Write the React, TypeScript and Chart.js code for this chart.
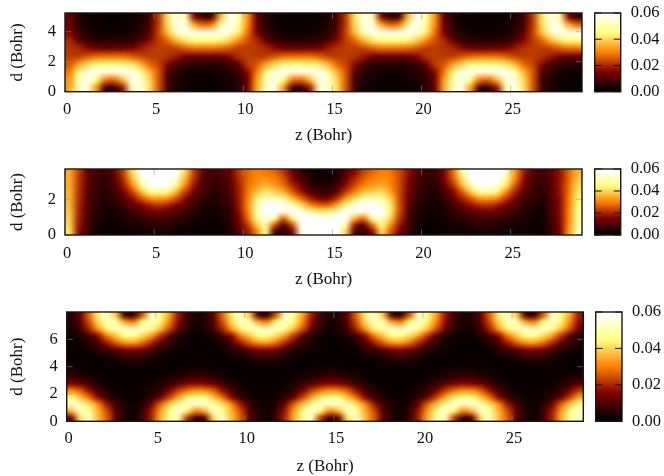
import { useEffect, useRef } from "react";
import { Chart, LinearScale, PointElement, ScatterController, type ChartConfiguration } from "chart.js";

Chart.register(LinearScale, PointElement, ScatterController);

const FONT = "'Liberation Serif', serif";

const zTicks = [0, 5, 10, 15, 20, 25];
const zCenters = [
  0.25, 0.75, 1.25, 1.75, 2.25, 2.75, 3.25, 3.75, 4.25, 4.75, 5.25, 5.75, 6.25, 6.75, 7.25, 7.75, 8.25, 8.75, 9.25, 9.75,
  10.25, 10.75, 11.25, 11.75, 12.25, 12.75, 13.25, 13.75, 14.25, 14.75, 15.25, 15.75, 16.25, 16.75, 17.25, 17.75, 18.25, 18.75, 19.25, 19.75,
  20.25, 20.75, 21.25, 21.75, 22.25, 22.75, 23.25, 23.75, 24.25, 24.75, 25.25, 25.75, 26.25, 26.75, 27.25, 27.75, 28.25, 28.75
];
const colorbarTicks = [0, 0.02, 0.04, 0.06];
// density in units of 0.001, bottom row first
const colorbarLevels = [
  0, 2, 4, 6, 8, 10, 12, 14, 16, 18, 20, 22, 24, 26, 28, 30, 32, 34, 36, 38, 40, 42, 44, 46, 48, 50, 52, 54, 56, 58, 60
];

const topD = [0.26, 0.79, 1.31, 1.84, 2.36, 2.89, 3.41, 3.94, 4.46, 4.99];
const topRows = [
  [34,51,57,33,8,6,18,52,56,41,25,8,3,2,1,1,1,2,2,5,13,34,51,57,33,8,6,18,52,56,41,25,8,3,2,1,1,1,2,2,5,13,34,51,57,33,8,6,18,52,56,41,25,8,3,2,1,1],
  [33,49,58,46,29,27,37,56,55,40,25,8,4,2,2,1,1,2,3,5,14,33,49,58,46,29,27,37,56,55,40,25,8,4,2,2,1,1,2,3,5,14,33,49,58,46,29,27,37,56,55,40,25,8,4,2,2,1],
  [29,44,55,58,57,57,58,57,49,36,25,10,5,3,2,2,2,3,4,7,16,29,44,55,58,57,57,58,57,49,36,25,10,5,3,2,2,2,3,4,7,16,29,44,55,58,57,57,58,57,49,36,25,10,5,3,2,2],
  [25,33,40,44,45,45,44,42,36,27,23,16,9,6,5,5,5,5,7,12,22,25,33,40,44,45,45,44,42,36,27,23,16,9,6,5,5,5,5,7,12,22,25,33,40,44,45,45,44,42,36,27,23,16,9,6,5,5],
  [22,22,25,27,28,28,28,26,23,22,22,21,18,14,12,12,12,13,16,21,22,22,22,25,27,28,28,28,26,23,22,22,21,18,14,12,12,12,13,16,21,22,22,22,25,27,28,28,28,26,23,22,22,21,18,14,12,12],
  [21,20,16,13,12,12,13,14,18,21,22,22,23,26,28,28,28,27,25,22,22,21,20,16,13,12,12,13,14,18,21,22,22,23,26,28,28,28,27,25,22,22,21,20,16,13,12,12,13,14,18,21,22,22,23,26,28,28],
  [20,11,7,5,5,5,5,6,9,16,22,27,36,42,45,45,45,44,39,31,24,20,11,7,5,5,5,5,6,9,16,22,27,36,42,45,45,45,44,39,31,24,20,11,7,5,5,5,5,6,9,16,22,27,36,42,45,45],
  [15,7,4,2,2,2,2,3,5,11,23,37,51,58,57,57,57,58,55,43,28,15,7,4,2,2,2,2,3,5,11,23,37,51,58,57,57,57,58,55,43,28,15,7,4,2,2,2,2,3,5,11,23,37,51,58,57,57],
  [13,5,2,2,1,1,2,2,4,9,22,41,56,55,35,27,30,48,58,48,31,13,5,2,2,1,1,2,2,4,9,22,41,56,55,35,27,30,48,58,48,31,13,5,2,2,1,1,2,2,4,9,22,41,56,55,35,27],
  [12,5,2,2,1,1,1,2,3,8,22,42,57,49,16,6,9,37,58,49,32,12,5,2,2,1,1,1,2,3,8,22,42,57,49,16,6,9,37,58,49,32,12,5,2,2,1,1,1,2,3,8,22,42,57,49,16,6]
];

const midD = [0.19, 0.56, 0.93, 1.3, 1.67, 2.04, 2.41, 2.78, 3.15, 3.52];
// this panel has no repeat in z, so it was read column by column (z = 0.25, 0.75, ...)
const midColumns = [
  [42,40,39,38,37,36,36,35,35,35],
  [17,18,19,20,20,21,21,22,22,23],
  [7,8,9,9,10,10,11,11,12,12],
  [3,3,4,5,5,6,7,7,7,8],
  [1,1,2,2,3,4,4,5,6,7],
  [2,2,2,3,4,6,8,9,10,11],
  [1,2,3,4,7,9,13,17,20,22],
  [2,3,5,7,11,16,22,30,36,40],
  [2,3,6,9,15,24,35,46,55,60],
  [3,5,8,12,19,31,45,58,64,66],
  [3,5,8,13,21,33,48,62,65,68],
  [3,5,8,12,19,31,45,58,64,66],
  [2,3,6,9,15,24,35,46,55,60],
  [2,3,5,7,11,16,22,30,36,40],
  [1,2,3,4,7,9,13,17,20,22],
  [1,2,2,3,4,6,8,9,10,11],
  [1,1,2,2,3,4,5,6,7,7],
  [1,2,2,3,4,5,6,7,8,9],
  [4,4,5,6,7,8,9,10,11,12],
  [10,12,14,16,17,18,18,19,20,21],
  [18,22,27,30,31,30,29,28,27,27],
  [30,38,46,50,48,44,37,33,31,30],
  [46,50,56,62,60,52,43,36,32,29],
  [10,25,50,62,64,52,40,33,30,27],
  [5,10,26,55,60,48,36,28,25,22],
  [14,24,44,60,52,38,26,20,16,13],
  [55,60,66,58,42,28,18,13,9,7],
  [64,66,64,50,32,19,10,6,4,3],
  [66,66,60,44,27,14,7,4,2,2],
  [66,66,60,44,27,14,7,4,2,2],
  [62,64,62,52,35,21,12,7,4,3],
  [40,50,58,60,46,33,22,16,12,9],
  [10,18,36,58,56,42,30,24,20,16],
  [5,10,28,56,60,50,38,30,26,23],
  [16,28,50,62,63,52,40,33,30,27],
  [40,46,54,60,56,50,41,35,32,30],
  [26,32,40,44,43,40,34,31,30,29],
  [15,18,22,24,25,24,24,24,24,24],
  [7,8,9,10,12,13,14,15,16,17],
  [2,3,3,4,5,6,7,8,9,10],
  [1,1,2,2,3,4,5,5,6,7],
  [1,1,2,2,3,3,4,5,6,7],
  [2,2,2,3,4,6,8,11,13,14],
  [2,2,4,5,8,11,15,20,25,27],
  [2,3,5,8,12,18,25,35,41,46],
  [2,4,7,10,17,25,38,50,60,62],
  [3,5,8,12,20,32,47,60,65,67],
  [3,5,8,13,21,33,48,62,65,68],
  [3,4,7,11,18,30,44,55,63,65],
  [2,4,6,9,14,21,31,42,50,55],
  [2,3,4,7,10,14,19,25,31,33],
  [2,2,3,4,6,8,11,14,16,18],
  [2,2,2,3,4,6,7,8,9,10],
  [1,2,2,2,3,4,5,6,7,7],
  [6,6,7,8,8,9,9,10,10,11],
  [14,15,15,16,16,16,17,17,17,17],
  [32,31,30,30,29,29,28,28,27,27],
  [52,50,48,47,45,44,42,40,38,36]
];

const lowD = [0.25, 0.75, 1.25, 1.75, 2.25, 2.75, 3.25, 3.75, 4.25, 4.75, 5.25, 5.75, 6.25, 6.75, 7.25, 7.75];
const lowRows = [
  [12,41,53,37,26,11,4,2,7,19,35,48,51,22,6,12,41,53,37,26,11,4,2,7,19,35,48,51,22,6,12,41,53,37,26,11,4,2,7,19,35,48,51,22,6,12,41,53,37,26,11,4,2,7,19,35,48,51],
  [36,53,48,36,24,10,4,2,6,18,33,45,54,44,30,36,53,48,36,24,10,4,2,6,18,33,45,54,44,30,36,53,48,36,24,10,4,2,6,18,33,45,54,44,30,36,53,48,36,24,10,4,2,6,18,33,45,54],
  [54,50,42,31,18,8,3,2,4,13,26,38,48,53,54,54,50,42,31,18,8,3,2,4,13,26,38,48,53,54,54,50,42,31,18,8,3,2,4,13,26,38,48,53,54,54,50,42,31,18,8,3,2,4,13,26,38,48],
  [45,38,28,16,7,3,2,1,2,5,12,23,34,43,47,45,38,28,16,7,3,2,1,2,5,12,23,34,43,47,45,38,28,16,7,3,2,1,2,5,12,23,34,43,47,45,38,28,16,7,3,2,1,2,5,12,23,34],
  [31,26,17,9,4,2,1,1,2,3,6,14,22,28,32,31,26,17,9,4,2,1,1,2,3,6,14,22,28,32,31,26,17,9,4,2,1,1,2,3,6,14,22,28,32,31,26,17,9,4,2,1,1,2,3,6,14,22],
  [15,12,7,4,2,1,1,1,1,2,4,6,10,14,16,15,12,7,4,2,1,1,1,1,2,4,6,10,14,16,15,12,7,4,2,1,1,1,1,2,4,6,10,14,16,15,12,7,4,2,1,1,1,1,2,4,6,10],
  [7,5,3,2,1,1,1,1,1,1,2,3,4,6,7,7,5,3,2,1,1,1,1,1,1,2,3,4,6,7,7,5,3,2,1,1,1,1,1,1,2,3,4,6,7,7,5,3,2,1,1,1,1,1,1,2,3,4],
  [3,2,2,1,1,1,1,1,1,1,1,1,2,3,3,3,2,2,1,1,1,1,1,1,1,1,1,2,3,3,3,2,2,1,1,1,1,1,1,1,1,1,2,3,3,3,2,2,1,1,1,1,1,1,1,1,1,2],
  [1,1,1,1,1,2,3,3,3,2,1,1,1,1,1,1,1,1,1,1,2,3,3,3,2,1,1,1,1,1,1,1,1,1,1,2,3,3,3,2,1,1,1,1,1,1,1,1,1,1,2,3,3,3,2,1,1,1],
  [1,1,1,2,3,4,6,7,6,4,2,1,1,1,1,1,1,1,2,3,4,6,7,6,4,2,1,1,1,1,1,1,1,2,3,4,6,7,6,4,2,1,1,1,1,1,1,1,2,3,4,6,7,6,4,2,1,1],
  [1,1,2,5,7,11,15,16,13,9,5,3,2,1,1,1,1,2,5,7,11,15,16,13,9,5,3,2,1,1,1,1,2,5,7,11,15,16,13,9,5,3,2,1,1,1,1,2,5,7,11,15,16,13,9,5,3,2],
  [1,2,4,9,18,26,32,33,28,20,12,6,3,2,1,1,2,4,9,18,26,32,33,28,20,12,6,3,2,1,1,2,4,9,18,26,32,33,28,20,12,6,3,2,1,1,2,4,9,18,26,32,33,28,20,12,6,3],
  [2,3,8,16,29,38,45,46,41,33,21,10,4,2,1,2,3,8,16,29,38,45,46,41,33,21,10,4,2,1,2,3,8,16,29,38,45,46,41,33,21,10,4,2,1,2,3,8,16,29,38,45,46,41,33,21,10,4],
  [3,8,19,32,44,50,54,54,53,47,37,24,12,5,2,3,8,19,32,44,50,54,54,53,47,37,24,12,5,2,3,8,19,32,44,50,54,54,53,47,37,24,12,5,2,3,8,19,32,44,50,54,54,53,47,37,24,12],
  [4,10,24,40,52,51,35,30,45,53,44,30,16,6,3,4,10,24,40,52,51,35,30,45,53,44,30,16,6,3,4,10,24,40,52,51,35,30,45,53,44,30,16,6,3,4,10,24,40,52,51,35,30,45,53,44,30,16],
  [4,12,27,43,53,39,10,6,25,53,47,34,18,8,3,4,12,27,43,53,39,10,6,25,53,47,34,18,8,3,4,12,27,43,53,39,10,6,25,53,47,34,18,8,3,4,12,27,43,53,39,10,6,25,53,47,34,18]
];

// afmhot style palette, white at 0.06 and above
function hotColor(v: number) {
  const t = Math.min(v / 60, 1);
  const c = (a: number) => Math.round(255 * Math.max(0, Math.min(1, a)));
  return [c(2 * t), c(2 * t - 0.5), c(2 * t - 1)];
}

// paints the cells of the (invisible) scatter dataset through the scales, then ticks and frame on top
const heatmapPlugin = {
  id: "heatmap",
  beforeDatasetsDraw(chart: any, _args: any, opts: any) {
    const { ctx } = chart;
    const xs = chart.scales.x;
    const ys = chart.scales.y;
    const cells = chart.data.datasets[0].data;
    const off = document.createElement("canvas");
    off.width = opts.cols;
    off.height = opts.rows;
    const octx = off.getContext("2d")!;
    const img = octx.createImageData(opts.cols, opts.rows);
    cells.forEach((cell: any) => {
      const i = (opts.rows - 1 - cell.row) * opts.cols + cell.col;
      const [r, g, b] = hotColor(cell.v);
      img.data.set([r, g, b, 255], i * 4);
    });
    octx.putImageData(img, 0, 0);
    const left = xs.getPixelForValue(xs.min);
    const right = xs.getPixelForValue(xs.max);
    const top = ys.getPixelForValue(ys.max);
    const bottom = ys.getPixelForValue(ys.min);
    ctx.save();
    ctx.imageSmoothingEnabled = true;
    ctx.imageSmoothingQuality = "high";
    ctx.drawImage(off, left, top, right - left, bottom - top);
    ctx.restore();
  },
  afterDatasetsDraw(chart: any, _args: any, opts: any) {
    const { ctx, chartArea: a } = chart;
    ctx.save();
    ctx.strokeStyle = opts.tickColor;
    ctx.lineWidth = 1;
    ctx.beginPath();
    if (opts.xTicks) {
      chart.scales.x.ticks.forEach((t: any) => {
        const x = chart.scales.x.getPixelForValue(t.value);
        ctx.moveTo(x, a.bottom);
        ctx.lineTo(x, a.bottom - opts.tickLength);
        ctx.moveTo(x, a.top);
        ctx.lineTo(x, a.top + opts.tickLength);
      });
    }
    chart.scales.y.ticks.forEach((t: any) => {
      const y = chart.scales.y.getPixelForValue(t.value);
      ctx.moveTo(a.left, y);
      ctx.lineTo(a.left + opts.tickLength, y);
      ctx.moveTo(a.right, y);
      ctx.lineTo(a.right - opts.tickLength, y);
    });
    ctx.stroke();
    ctx.strokeStyle = "#151515";
    ctx.lineWidth = 1.4;
    ctx.strokeRect(a.left, a.top, a.right - a.left, a.bottom - a.top);
    ctx.restore();
  }
};

function cellsOf(rows: number[][], xValues: number[], yValues: number[]) {
  return rows.flatMap((row, r) => row.map((v, c) => ({ x: xValues[c], y: yValues[r], v, col: c, row: r })));
}

const columnsToRows = (cols: number[][]) => cols[0].map((_, r) => cols.map((c) => c[r]));

type PanelProps = {
  rows: number[][];
  yValues: number[];
  yMax: number;
  yTicks: number[];
  box: { top: number; bottom: number; left: number; right: number; canvasTop: number; canvasBottom: number };
  xPad: number;
  barLeft: number;
  barRight: number;
};

const panels: PanelProps[] = [
  {
    rows: topRows, yValues: topD, yMax: 5.25, yTicks: [0, 2, 4],
    box: { top: 13, bottom: 91.7, left: 65, right: 582, canvasTop: 0, canvasBottom: 147 },
    xPad: 8.5, barLeft: 594.7, barRight: 620.7
  },
  {
    rows: columnsToRows(midColumns), yValues: midD, yMax: 3.7, yTicks: [0, 2],
    box: { top: 169, bottom: 235, left: 65, right: 582, canvasTop: 155, canvasBottom: 291 },
    xPad: 8.5, barLeft: 594.7, barRight: 620.7
  },
  {
    rows: lowRows, yValues: lowD, yMax: 8, yTicks: [0, 2, 4, 6],
    box: { top: 312, bottom: 421.3, left: 66.7, right: 583.3, canvasTop: 298, canvasBottom: 478 },
    xPad: 7.5, barLeft: 595.7, barRight: 622
  }
];

function useChart(config: () => ChartConfiguration<"scatter">) {
  const canvasRef = useRef<HTMLCanvasElement | null>(null);
  useEffect(() => {
    const canvas = canvasRef.current;
    if (!canvas) return;
    const chart = new Chart(canvas, config());
    return () => chart.destroy();
  }, []);
  return canvasRef;
}

function HeatPanel({ rows, yValues, yMax, yTicks, box, xPad }: PanelProps) {
  const width = 590;
  const height = box.canvasBottom - box.canvasTop;
  const canvasRef = useChart(() => ({
    type: "scatter",
    data: { datasets: [{ data: cellsOf(rows, zCenters, yValues) as any, pointRadius: 0 }] },
    plugins: [heatmapPlugin],
    options: {
      animation: false,
      responsive: false,
      events: [],
      layout: { padding: { top: box.top - box.canvasTop, right: width - box.right, left: 0, bottom: 0 } },
      plugins: {
        legend: { display: false },
        heatmap: { cols: zCenters.length, rows: rows.length, xTicks: true, tickLength: 6, tickColor: "rgba(150,150,150,0.55)" }
      } as any,
      scales: {
        x: {
          type: "linear",
          min: 0,
          max: 29,
          grid: { display: false, drawTicks: false },
          border: { display: false },
          afterBuildTicks: (s: any) => { s.ticks = zTicks.map((value) => ({ value })); },
          afterFit: (s: any) => { s.height = box.canvasBottom - box.bottom; },
          ticks: {
            padding: xPad,
            labelOffset: 2,
            maxRotation: 0,
            autoSkip: false,
            color: "#111",
            font: { family: FONT, size: 16.5 },
            callback: (v: any) => String(v)
          },
          title: { display: true, text: "z (Bohr)", color: "#111", font: { family: FONT, size: 17 }, padding: { top: 0, bottom: 0.8 } }
        },
        y: {
          type: "linear",
          min: 0,
          max: yMax,
          grid: { display: false, drawTicks: false },
          border: { display: false },
          afterBuildTicks: (s: any) => { s.ticks = yTicks.map((value) => ({ value })); },
          afterFit: (s: any) => {
            s.width = box.left;
            s.paddingTop = 0;
            s.paddingBottom = 0;
          },
          ticks: {
            padding: 9,
            autoSkip: false,
            color: "#111",
            font: { family: FONT, size: 16.5 },
            callback: (v: any) => String(v)
          },
          title: { display: true, text: "d (Bohr)", color: "#111", font: { family: FONT, size: 17 }, padding: { top: 7, bottom: 0 } }
        }
      }
    }
  }));
  return <canvas ref={canvasRef} width={width} height={height} style={{ position: "absolute", left: 0, top: box.canvasTop, width, height }} />;
}

function ColorBar({ box, barLeft, barRight }: PanelProps) {
  const canvasLeft = 590;
  const width = 664 - canvasLeft;
  const height = box.canvasBottom - box.canvasTop;
  const canvasRef = useChart(() => ({
    type: "scatter",
    data: {
      datasets: [{
        data: cellsOf(colorbarLevels.map((v) => [v]), [0.5], colorbarLevels.map((v) => v / 1000)) as any,
        pointRadius: 0
      }]
    },
    plugins: [heatmapPlugin],
    options: {
      animation: false,
      responsive: false,
      events: [],
      layout: {
        padding: { top: box.top - box.canvasTop, bottom: box.canvasBottom - box.bottom, left: barLeft - canvasLeft, right: 0 }
      },
      plugins: {
        legend: { display: false },
        heatmap: { cols: 1, rows: colorbarLevels.length, xTicks: false, tickLength: 7, tickColor: "#111" }
      } as any,
      scales: {
        x: { type: "linear", min: 0, max: 1, display: false },
        y: {
          type: "linear",
          position: "right",
          min: 0,
          max: 0.06,
          grid: { display: false, drawTicks: false },
          border: { display: false },
          afterBuildTicks: (s: any) => { s.ticks = colorbarTicks.map((value) => ({ value })); },
          afterFit: (s: any) => {
            s.width = 664 - barRight;
            s.paddingTop = 0;
            s.paddingBottom = 0;
          },
          ticks: {
            padding: 10,
            autoSkip: false,
            color: "#111",
            font: { family: FONT, size: 16.5 },
            callback: (v: any) => Number(v).toFixed(2)
          }
        }
      }
    }
  }));
  return <canvas ref={canvasRef} width={width} height={height} style={{ position: "absolute", left: canvasLeft, top: box.canvasTop, width, height }} />;
}

export default function App() {
  return (
    <div style={{ position: "absolute", left: 0, top: 0, width: 664, height: 476, overflow: "hidden", background: "#fff" }}>
      {panels.map((p, i) => <HeatPanel key={i} {...p} />)}
      {panels.map((p, i) => <ColorBar key={i} {...p} />)}
    </div>
  );
}
